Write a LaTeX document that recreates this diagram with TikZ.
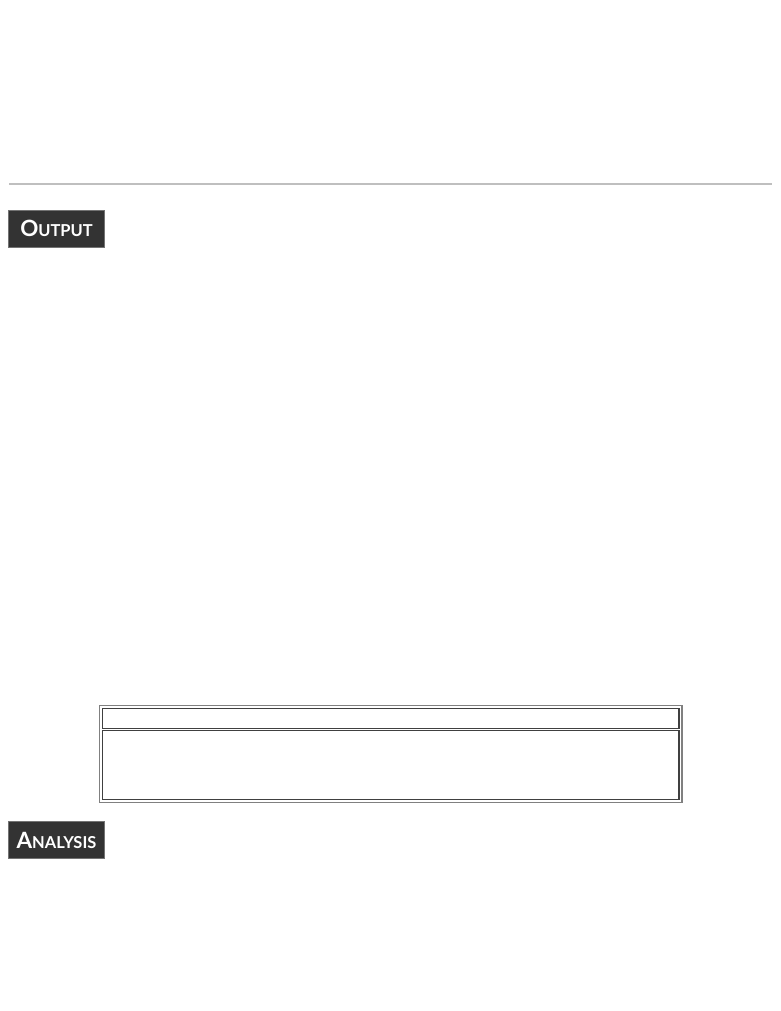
\documentclass[tikz,border=0pt]{standalone}
\usepackage{fontspec}
\setmainfont{Lato}
\begin{document}
\begin{tikzpicture}[x=1bp,y=-1bp,
  hdr/.style={fill=black!80,draw=black!55,line width=1bp,minimum width=95bp,minimum height=37bp,inner sep=0pt,text=white,font=\bfseries},
  rule/.style={draw=black!25,line width=1.5bp},
  tframe/.style={draw=black!50,line width=1.6bp},
  tcell/.style={draw=black!75,line width=1.2bp}]
\useasboundingbox (0,0) rectangle (781,1011);
\fill[white] (0,0) rectangle (781,1011);
\coordinate (r1) at (9,184);
\coordinate (r2) at (772,184);
\draw[rule] (r1) -- (r2);
\node[hdr] (out) at (56.5,228.5) {{\fontsize{22.5}{22.5}\selectfont O}{\fontsize{16.5}{16.5}\selectfont UTPUT}};
\draw[tframe] (99.5,705.5) rectangle (682,802.5);
\draw[tcell] (102.5,708.5) rectangle (679,728.5);
\draw[tcell] (102.5,730.5) rectangle (679,799.5);
\node[hdr] (ana) at (56.5,840) {{\fontsize{22.5}{22.5}\selectfont A}{\fontsize{16.5}{16.5}\selectfont NALYSIS}};
\end{tikzpicture}
\end{document}
